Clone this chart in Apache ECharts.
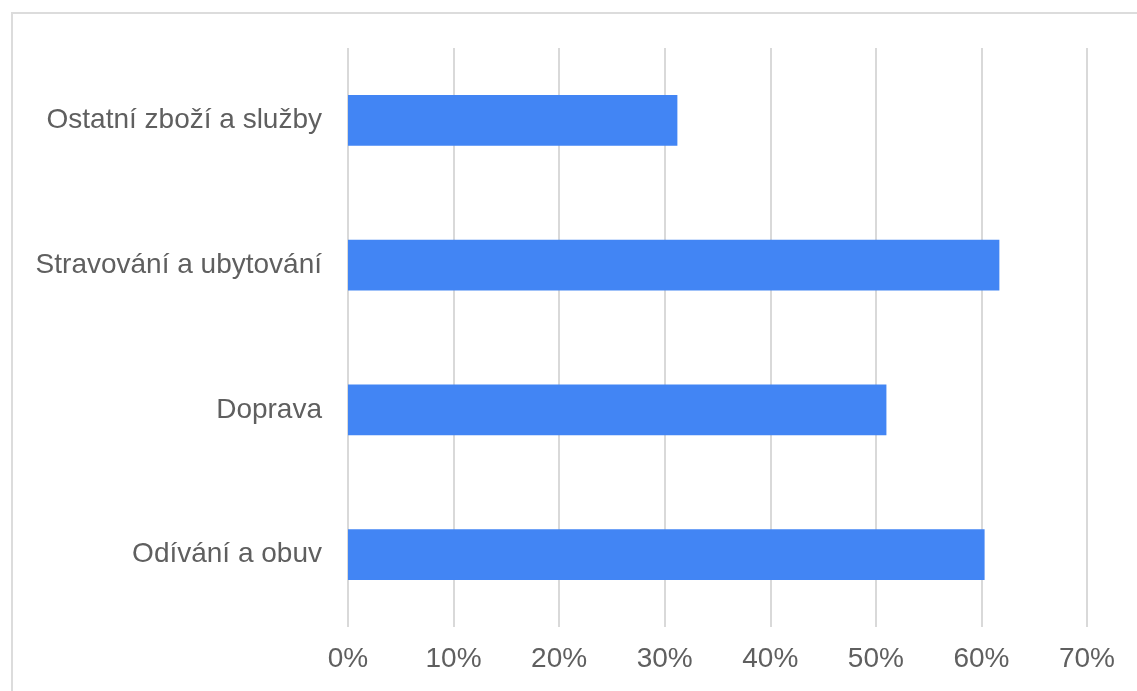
<!DOCTYPE html>
<html>
<head>
<meta charset="utf-8">
<script src="https://cdn.jsdelivr.net/npm/echarts@6/dist/echarts.min.js"></script>
<style>
  html, body { margin: 0; padding: 0; background: #fff; }
  #frame { position: absolute; left: 11px; top: 12px; width: 1140px; height: 690px;
           border-left: 2px solid #dcdcdc; border-top: 2px solid #dcdcdc; }
  #echart1 { position: absolute; left: 0; top: 0; width: 1137px; height: 691px; }
</style>
</head>
<body>
<div id="frame"></div>
<div id="echart1"></div>
<script>
const categories = ['Odívání a obuv', 'Doprava', 'Stravování a ubytování', 'Ostatní zboží a služby'];
const values = [60.3, 51.0, 61.7, 31.2];
const ticks = [0, 10, 20, 30, 40, 50, 60, 70];

{
    var dom = document.querySelector('#echart1');
    var myChart = echarts.init(dom);
    const option = {
        textStyle: { fontFamily: 'Liberation Sans, Arial, sans-serif' },
        grid: { left: 348, right: 50, top: 48, bottom: 64, containLabel: false },
        xAxis: {
            type: 'value',
            min: ticks[0],
            max: ticks[ticks.length - 1],
            interval: 10,
            axisLine: { show: false },
            axisTick: { show: false },
            splitLine: { lineStyle: { color: '#d9d9d9', width: 2 } },
            axisLabel: {
                color: '#5f5f5f',
                fontSize: 28,
                margin: 18,
                formatter: '{value}%'
            }
        },
        yAxis: {
            type: 'category',
            data: categories,
            axisLine: { show: false },
            axisTick: { show: false },
            axisLabel: { color: '#5f5f5f', fontSize: 28, margin: 26 }
        },
        series: [
            {
                type: 'bar',
                data: values,
                barWidth: '35%',
                itemStyle: { color: '#4285f4' },
                silent: true
            }
        ],
        animation: false
    };
    myChart.setOption(option);
}
</script>
</body>
</html>
